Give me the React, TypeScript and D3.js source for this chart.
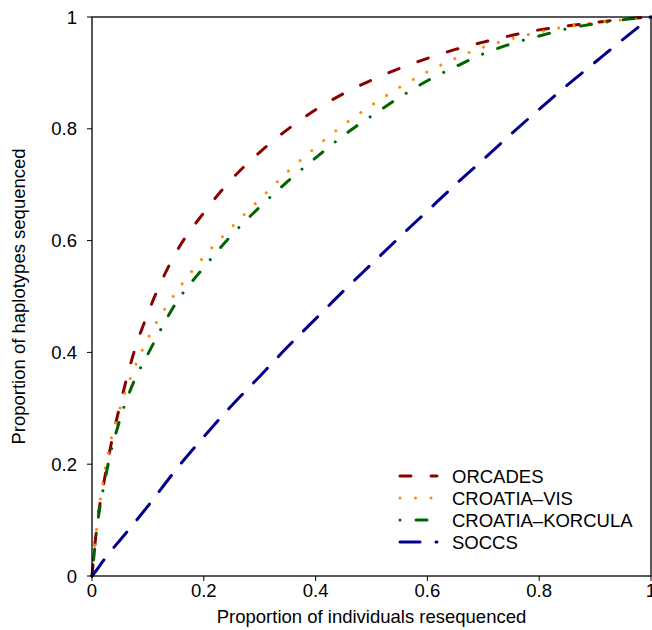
import React from 'react';
import * as d3 from 'd3';

// proportion of individuals resequenced (shared x grid)
const xGrid = [0, 0.01, 0.02, 0.03, 0.05, 0.075, 0.1, 0.15, 0.2, 0.25, 0.3, 0.35, 0.4, 0.45, 0.5, 0.55, 0.6, 0.65, 0.7, 0.75, 0.8, 0.85, 0.9, 0.95, 1];

// proportion of haplotypes sequenced, per cohort
const orcades = [0, 0.10, 0.16, 0.215, 0.305, 0.40, 0.47, 0.578, 0.65, 0.71, 0.758, 0.799, 0.834, 0.863, 0.887, 0.908, 0.926, 0.942, 0.955, 0.967, 0.977, 0.984, 0.990, 0.996, 1];
const croatiaVis = [0, 0.10, 0.17, 0.225, 0.30, 0.37, 0.425, 0.507, 0.571, 0.624, 0.674, 0.723, 0.767, 0.807, 0.842, 0.874, 0.902, 0.926, 0.946, 0.961, 0.973, 0.983, 0.990, 0.995, 1];
const croatiaKorcula = [0, 0.095, 0.155, 0.205, 0.28, 0.348, 0.397, 0.488, 0.552, 0.61, 0.66, 0.706, 0.748, 0.788, 0.823, 0.856, 0.886, 0.911, 0.934, 0.952, 0.966, 0.979, 0.988, 0.995, 1];
const soccs = [0, 0.013, 0.027, 0.04, 0.064, 0.094, 0.125, 0.19, 0.249, 0.305, 0.357, 0.41, 0.46, 0.51, 0.558, 0.606, 0.653, 0.70, 0.745, 0.791, 0.835, 0.878, 0.919, 0.96, 1];

const seriesNames = ['ORCADES', 'CROATIA\u2013VIS', 'CROATIA\u2013KORCULA', 'SOCCS'];
const seriesValues = [orcades, croatiaVis, croatiaKorcula, soccs];
const seriesColors = ['#8B0000', '#FF8C00', '#006400', '#00008B'];
const seriesDashes = ['11 20', '0.01 15.5', '0.01 16 11 16', '20 16'];

const tickValues = [0, 0.2, 0.4, 0.6, 0.8, 1];
const tickLabels = ['0', '0.2', '0.4', '0.6', '0.8', '1'];

const W = 652;
const H = 630;
const font = '"Liberation Sans", Arial, sans-serif';
const fs = 18.5;

export default function App() {
  const x = d3.scaleLinear().domain([0, 1]).range([92, 651]);
  const y = d3.scaleLinear().domain([0, 1]).range([576, 17]);

  const line = d3.line<number>()
    .x((_, i) => x(xGrid[i]))
    .y(d => y(d))
    .curve(d3.curveMonotoneX);

  const legendX = 400;
  const legendY = 476;
  const legendStep = 22;

  return (
    <svg width={W} height={H} style={{ position: 'absolute', left: 0, top: 0, background: '#fff' }}
      fontFamily={font}>
      {/* curves */}
      {seriesValues.map((vals, i) => (
        <path key={seriesNames[i]} d={line(vals) || ''} fill="none" stroke={seriesColors[i]}
          strokeWidth={3} strokeDasharray={seriesDashes[i]} strokeLinecap="round" />
      ))}

      {/* frame */}
      <rect x={x(0)} y={y(1)} width={x(1) - x(0)} height={y(0) - y(1)} fill="none" stroke="#000" strokeWidth={1.3} />

      {/* y axis */}
      {tickValues.map((t, i) => (
        <g key={'y' + t}>
          <line x1={x(0) - 5} x2={x(0)} y1={y(t)} y2={y(t)} stroke="#000" strokeWidth={1} />
          <text x={77} y={y(t) + 6.6} textAnchor="end" fontSize={fs}>{tickLabels[i]}</text>
        </g>
      ))}

      {/* x axis */}
      {tickValues.map((t, i) => (
        <g key={'x' + t}>
          <line x1={x(t)} x2={x(t)} y1={y(0)} y2={y(0) + 5} stroke="#000" strokeWidth={1} />
          <text x={x(t)} y={597} textAnchor="middle" fontSize={fs}>{tickLabels[i]}</text>
        </g>
      ))}

      <text x={(x(0) + x(1)) / 2} y={623} textAnchor="middle" fontSize={fs}>
        Proportion of individuals resequenced
      </text>
      <text transform={`translate(24.5, ${(y(0) + y(1)) / 2}) rotate(-90)`} textAnchor="middle" fontSize={fs}>
        Proportion of haplotypes sequenced
      </text>

      {/* legend */}
      {seriesNames.map((name, i) => (
        <g key={'leg' + name}>
          <line x1={legendX} x2={legendX + 37} y1={legendY + i * legendStep} y2={legendY + i * legendStep}
            stroke={seriesColors[i]} strokeWidth={3} strokeDasharray={seriesDashes[i]} strokeLinecap="round" />
          <text x={452} y={legendY + i * legendStep + 6.6} fontSize={fs}>{name}</text>
        </g>
      ))}
    </svg>
  );
}
